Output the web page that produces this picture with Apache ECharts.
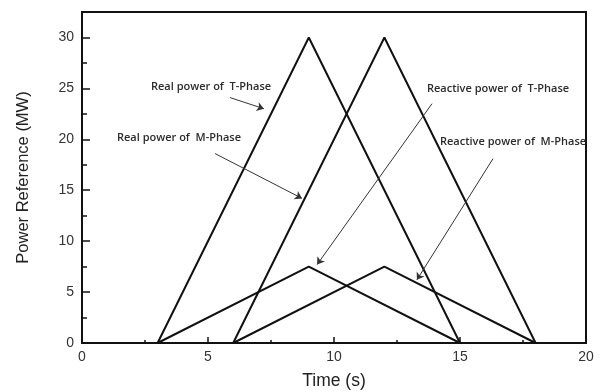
<!DOCTYPE html>
<html>
<head>
<meta charset="utf-8">
<script src="https://cdn.jsdelivr.net/npm/echarts@6/dist/echarts.min.js"></script>
<style>
  html, body { margin: 0; padding: 0; background: #fff; }
  #chart { width: 606px; height: 392px; }
</style>
</head>
<body>
<div id="chart"></div>
<script>
// time breakpoints (s) and values (MW) of each triangular profile
const realTTime = [3, 9, 15];
const realTPower = [0, 30, 0];
const realMTime = [6, 12, 18];
const realMPower = [0, 30, 0];
const reactTTime = [3, 9, 15];
const reactTPower = [0, 7.5, 0];
const reactMTime = [6, 12, 18];
const reactMPower = [0, 7.5, 0];

// annotations: label text and arrow [from, to] in data units
const noteLabels = [
  "Real power of  T-Phase",
  "Real power of  M-Phase",
  "Reactive power of  T-Phase",
  "Reactive power of  M-Phase",
];
const noteArrows = [
  [[5.87, 24.1], [7.22, 23.0]],
  [[5.28, 18.6], [8.73, 14.2]],
  [[13.89, 23.5], [9.33, 7.7]],
  [[16.31, 18.1], [13.29, 6.2]],
];

const zip = (xs, ys) => xs.map((x, i) => [x, ys[i]]);

const chart = echarts.init(document.getElementById("chart"), null, { renderer: "canvas" });

const lineSeries = (data) => ({
  type: "line",
  data,
  symbol: "none",
  lineStyle: { color: "#111", width: 2 },
  animation: false,
});

const tickFont = {
  color: "#333",
  fontFamily: "Liberation Sans",
  fontSize: 14,
};

const noteFont = {
  fill: "#2b2b2b",
  fontFamily: "Open Sans",
  fontSize: 11,
  fontWeight: 600,
};

const option = {
  animation: false,
  grid: {
    left: 82,
    right: 20,
    top: 12,
    bottom: 49,
    outerBoundsMode: "none",
    show: true,
    borderColor: "#111",
    borderWidth: 2,
  },
  xAxis: {
    type: "value",
    min: 0,
    max: 20,
    interval: 5,
    name: "Time (s)",
    nameLocation: "middle",
    nameGap: 29,
    nameTextStyle: { color: "#222", fontFamily: "Liberation Sans", fontSize: 17.5 },
    axisLine: { lineStyle: { color: "#111", width: 2 } },
    axisTick: { inside: true, length: 6, lineStyle: { color: "#111", width: 1.5 } },
    minorTick: { show: true, splitNumber: 2, length: 3, lineStyle: { color: "#111", width: 1.5 } },
    axisLabel: { ...tickFont, margin: 7 },
    splitLine: { show: false },
  },
  yAxis: {
    type: "value",
    min: 0,
    max: 32.5,
    interval: 5,
    name: "Power Reference (MW)",
    nameLocation: "middle",
    nameGap: 50,
    nameTextStyle: { color: "#222", fontFamily: "Liberation Sans", fontSize: 16.5 },
    axisLine: { lineStyle: { color: "#111", width: 2 } },
    axisTick: { inside: true, length: 8, lineStyle: { color: "#111", width: 1.5 } },
    minorTick: { show: true, splitNumber: 2, length: 5, lineStyle: { color: "#111", width: 1.5 } },
    axisLabel: {
      ...tickFont,
      margin: 8,
      showMaxLabel: false,
      formatter: (v) => (v % 5 === 0 ? String(v) : ""),
    },
    splitLine: { show: false },
  },
  series: [
    lineSeries(zip(realTTime, realTPower)),
    lineSeries(zip(realMTime, realMPower)),
    lineSeries(zip(reactTTime, reactTPower)),
    lineSeries(zip(reactMTime, reactMPower)),
    {
      type: "line",
      data: [],
      markLine: {
        silent: true,
        symbol: ["none", "arrow"],
        symbolSize: 7,
        label: { show: false },
        lineStyle: { color: "#333", width: 1, type: "solid" },
        data: noteArrows.map(([a, b]) => [{ coord: a }, { coord: b }]),
      },
    },
  ],
  graphic: [
    { type: "text", left: 151, top: 81, style: { text: noteLabels[0], ...noteFont } },
    { type: "text", left: 117, top: 132, style: { text: noteLabels[1], ...noteFont } },
    { type: "text", left: 427, top: 83, style: { text: noteLabels[2], ...noteFont } },
    { type: "text", left: 440, top: 136, style: { text: noteLabels[3], ...noteFont } },
  ],
};

chart.setOption(option);
</script>
</body>
</html>
